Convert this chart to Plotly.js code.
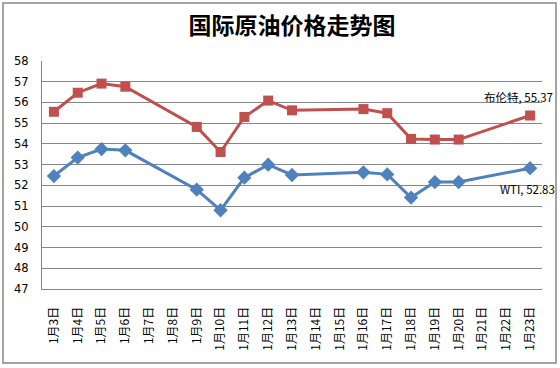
<!DOCTYPE html>
<html><head><meta charset="utf-8">
<script src="https://cdn.plot.ly/plotly-3.0.1.min.js"></script>
<style>html,body{margin:0;padding:0;background:#fff}#c{width:560px;height:368px}</style>
</head><body><div id="c"></div>
<script>
const categories = ["1月3日","1月4日","1月5日","1月6日","1月7日","1月8日","1月9日","1月10日","1月11日","1月12日","1月13日","1月14日","1月15日","1月16日","1月17日","1月18日","1月19日","1月20日","1月21日","1月22日","1月23日"];
const brent = [55.55,56.47,56.91,56.76,null,null,54.82,53.61,55.30,56.09,55.62,null,null,55.68,55.48,54.24,54.21,54.21,null,null,55.37];
const wti   = [52.45,53.34,53.75,53.69,null,null,51.79,50.80,52.37,53.00,52.50,null,null,52.63,52.53,51.41,52.16,52.16,null,null,52.83];
const brentName = "布伦特";
const wtiName = "WTI";

const font = "'DejaVu Sans', 'Noto Sans CJK SC', sans-serif";
const traces = [
  {x: categories, y: brent, name: brentName, type: 'scatter', mode: 'lines+markers', connectgaps: true,
   line: {color: '#C0504D', width: 3}, marker: {symbol: 'square', size: 10, color: '#C0504D'}},
  {x: categories, y: wti, name: wtiName, type: 'scatter', mode: 'lines+markers', connectgaps: true,
   line: {color: '#4F81BD', width: 3}, marker: {symbol: 'diamond', size: 11, color: '#4F81BD'}}
];
const lastIdx = categories.length - 1;
const layout = {
  width: 560, height: 368,
  margin: {l: 42, r: 18, t: 61, b: 79},
  paper_bgcolor: '#fff', plot_bgcolor: '#fff',
  showlegend: false,
  title: {text: '国际原油价格走势图', x: 0.5, xref: 'paper', y: 0.93, yanchor: 'middle',
          font: {family: "'Noto Sans CJK SC', serif", size: 23, color: '#000', weight: 700}},
  xaxis: {type: 'category', range: [-0.5, lastIdx + 0.5], tickangle: -90, showgrid: false,
          showline: true, linecolor: '#868686', linewidth: 1, ticks: '', ticklabelstandoff: 12,
          tickfont: {family: "'Noto Sans CJK SC', sans-serif", size: 12, color: '#000'}, fixedrange: true},
  yaxis: {range: [47, 58], dtick: 1, tick0: 47, showgrid: true, gridcolor: '#868686', gridwidth: 1,
          showline: true, linecolor: '#868686', linewidth: 1, zeroline: false, ticklabelstandoff: 10,
          tickfont: {family: font, size: 11.5, color: '#000'}, ticks: '', fixedrange: true},
  annotations: [
    {x: categories[lastIdx], y: brent[lastIdx], xref: 'x', yref: 'y', text: brentName + ', ' + brent[lastIdx],
     showarrow: false, xshift: -12, yshift: 19, font: {family: "'Noto Sans CJK SC', sans-serif", size: 11.5, color: '#000'}},
    {x: categories[lastIdx], y: wti[lastIdx], xref: 'x', yref: 'y', text: wtiName + ', ' + wti[lastIdx],
     showarrow: false, xshift: -3, yshift: -21, font: {family: "'Noto Sans CJK SC', sans-serif", size: 11.5, color: '#000'}}
  ],
  shapes: [
    {type: 'rect', xref: 'paper', yref: 'paper',
     x0: (3 - 42) / 500, x1: (556 - 42) / 500, y0: (289 - 363) / 228, y1: (289 - 3) / 228,
     line: {color: '#868686', width: 1.5}, fillcolor: 'rgba(0,0,0,0)', layer: 'below'}
  ]
};
Plotly.newPlot('c', traces, layout, {displayModeBar: false, staticPlot: true});
</script></body></html>
